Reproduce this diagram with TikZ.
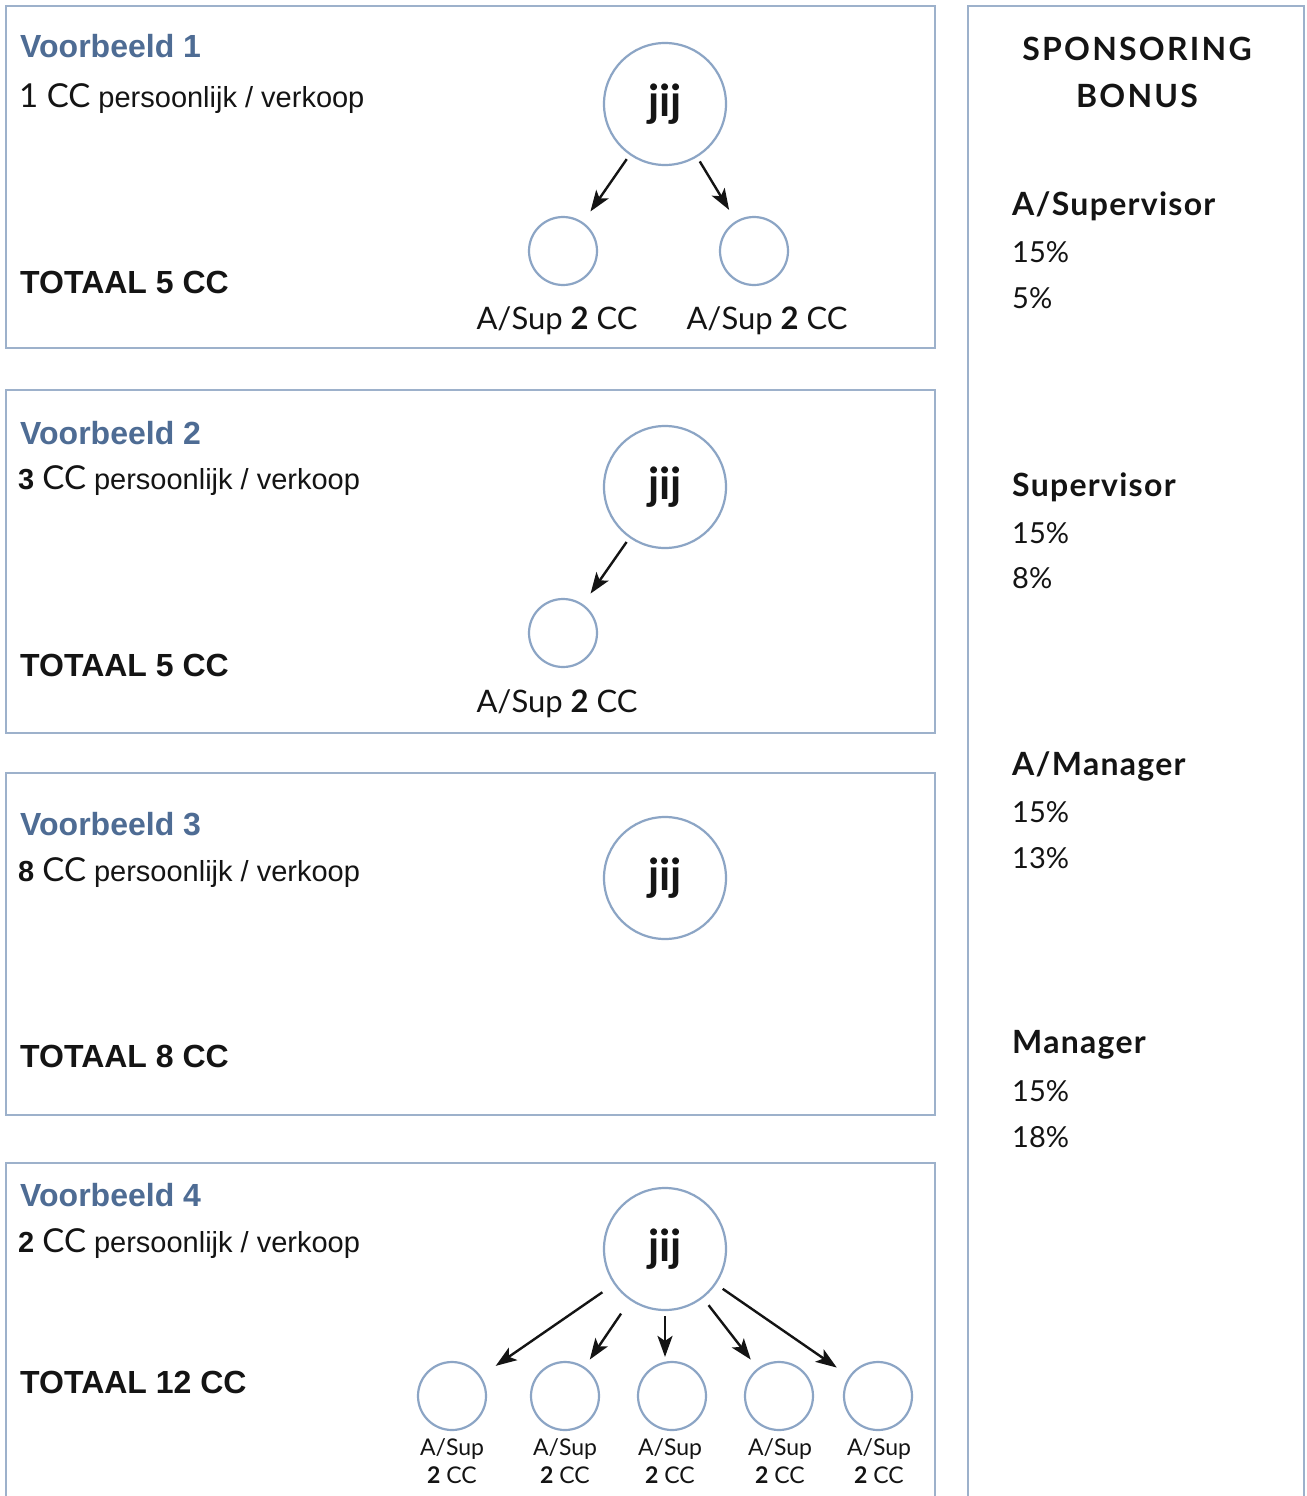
\documentclass[tikz,border=0pt]{standalone}
\usepackage{fontspec}
\setmainfont{Liberation Sans}
\newfontfamily\gill{Lato}
\newfontfamily\gillwide[LetterSpace=7]{Lato}
\newfontfamily\gillrank[LetterSpace=4]{Lato}
\usetikzlibrary{arrows.meta,calc}

\definecolor{frame}{HTML}{9DB1CB}
\definecolor{ring}{HTML}{8CA5C5}
\definecolor{titleblue}{HTML}{4E6C94}
\definecolor{ink}{HTML}{141414}

\begin{document}
\begin{tikzpicture}[x=1pt,y=-1pt,
  panel/.style={draw=frame, line width=1.6pt},
  big/.style={circle, draw=ring, line width=2.2pt, minimum size=122pt, inner sep=0pt,
    text=ink, font=\gill\bfseries\fontsize{44}{44}\selectfont},
  small/.style={circle, draw=ring, line width=2.2pt, minimum size=68pt, inner sep=0pt},
  arr/.style={-{Stealth[length=21pt,width=15pt,inset=5pt]}, line width=2.4pt, draw=ink,
    shorten <=5pt, shorten >=13pt},
  title/.style={anchor=base west, inner sep=0pt, text=titleblue,
    font=\bfseries\fontsize{32}{32}\selectfont},
  row/.style={anchor=base west, inner sep=0pt, text=ink, font=\fontsize{29}{30}\selectfont},
  total/.style={anchor=base west, inner sep=0pt, text=ink, font=\bfseries\fontsize{32}{32}\selectfont},
  sub/.style={anchor=base, inner sep=0pt, text=ink, font=\gill\fontsize{31}{31}\selectfont},
  subtwo/.style={align=center, inner sep=0pt, text=ink, font=\gill\fontsize{23}{28}\selectfont},
  head/.style={anchor=base, inner sep=0pt, text=ink, font=\gillwide\bfseries\fontsize{32}{32}\selectfont},
  rank/.style={anchor=base west, inner sep=0pt, text=ink, font=\gillrank\bfseries\fontsize{32}{32}\selectfont},
  pct/.style={anchor=base west, inner sep=0pt, text=ink, font=\gill\fontsize{29}{29}\selectfont}
]
\useasboundingbox (0,0) rectangle (1306,1496);
\fill[white] (0,0) rectangle (1306,1496);

% frames
\draw[panel] (6,6) rectangle (935,348);
\draw[panel] (6,390) rectangle (935,733);
\draw[panel] (6,773) rectangle (935,1115);
\draw[panel] (6,1500) -- (6,1163) -- (935,1163) -- (935,1500);
\draw[panel] (968,1500) -- (968,6) -- (1304,6) -- (1304,1500);

% example 1
\node[title] (t1) at (20,58) {Voorbeeld 1};
\node[row] (r1) at (19,107) {{\gill\fontsize{33}{33}\selectfont 1 CC}\ persoonlijk / verkoop};
\node[total] (tot1) at (20,293) {TOTAAL 5 CC};
\node[big] (j1) at (665,104) {jij};
\node[small] (s1a) at (563,251) {};
\node[small] (s1b) at (754,251) {};
\draw[arr] (j1) -- (s1a);
\draw[arr] (j1) -- (s1b);
\node[sub] (l1a) at (557,329) {A/Sup {\bfseries 2} CC};
\node[sub] (l1b) at (767,329) {A/Sup {\bfseries 2} CC};

% example 2
\node[title] (t2) at (20,444) {Voorbeeld 2};
\node[row] (r2) at (18,489) {{\bfseries 3}\ {\gill\fontsize{33}{33}\selectfont CC}\ persoonlijk / verkoop};
\node[total] (tot2) at (20,676) {TOTAAL 5 CC};
\node[big] (j2) at (665,487) {jij};
\node[small] (s2a) at (563,633) {};
\draw[arr] (j2) -- (s2a);
\node[sub] (l2a) at (557,712) {A/Sup {\bfseries 2} CC};

% example 3
\node[title] (t3) at (20,835) {Voorbeeld 3};
\node[row] (r3) at (18,881) {{\bfseries 8}\ {\gill\fontsize{33}{33}\selectfont CC}\ persoonlijk / verkoop};
\node[total] (tot3) at (20,1067) {TOTAAL 8 CC};
\node[big] (j3) at (665,878) {jij};

% example 4
\node[title] (t4) at (20,1206) {Voorbeeld 4};
\node[row] (r4) at (18,1252) {{\bfseries 2}\ {\gill\fontsize{33}{33}\selectfont CC}\ persoonlijk / verkoop};
\node[total] (tot4) at (20,1393) {TOTAAL 12 CC};
\node[big] (j4) at (665,1249) {jij};
\node[small] (s4a) at (452,1396) {};
\node[small] (s4b) at (565,1396) {};
\node[small] (s4c) at (672,1396) {};
\node[small] (s4d) at (779,1396) {};
\node[small] (s4e) at (878,1396) {};
\draw[arr, shorten <=14pt, shorten >=18pt] (j4) -- (s4a);
\draw[arr, shorten <=16pt, shorten >=9pt] (j4) -- (s4b);
\draw[arr, shorten >=4pt] (j4.south) -- (j4.south |- s4c.north);
\draw[arr, shorten <=9pt, shorten >=11pt] (j4) -- (s4d);
\draw[arr, shorten <=8pt, shorten >=15pt] (j4) -- (s4e);
\node[subtwo] (l4a) at (452,1461) {A/Sup\\{\bfseries 2} CC};
\node[subtwo] (l4b) at (565,1461) {A/Sup\\{\bfseries 2} CC};
\node[subtwo] (l4c) at (670,1461) {A/Sup\\{\bfseries 2} CC};
\node[subtwo] (l4d) at (780,1461) {A/Sup\\{\bfseries 2} CC};
\node[subtwo] (l4e) at (879,1461) {A/Sup\\{\bfseries 2} CC};

% sponsoring bonus column
\node[head] (h1) at (1137,60) {SPONSORING};
\node[head] (h2) at (1137,107) {BONUS};

\node[rank] (k1) at (1012,215) {A/Supervisor};
\node[pct] (k1a) at (1012,262) {15\%};
\node[pct] (k1b) at (1012,308) {5\%};

\node[rank] (k2) at (1012,496) {Supervisor};
\node[pct] (k2a) at (1012,543) {15\%};
\node[pct] (k2b) at (1012,588) {8\%};

\node[rank] (k3) at (1012,775) {A/Manager};
\node[pct] (k3a) at (1012,822) {15\%};
\node[pct] (k3b) at (1012,868) {13\%};

\node[rank] (k4) at (1012,1053) {Manager};
\node[pct] (k4a) at (1012,1101) {15\%};
\node[pct] (k4b) at (1012,1147) {18\%};
\end{tikzpicture}
\end{document}
